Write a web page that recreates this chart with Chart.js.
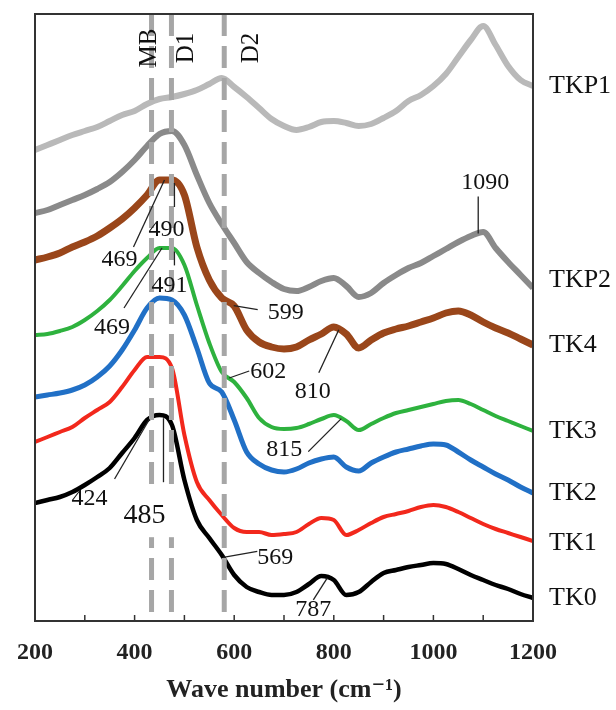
<!DOCTYPE html>
<html>
<head>
<meta charset="utf-8">
<script src="https://cdn.jsdelivr.net/npm/chart.js@4/dist/chart.umd.min.js"></script>
<style>
  body { margin: 0; background: #fff; }
</style>
</head>
<body>
<canvas id="myChart" width="616" height="710"></canvas>
<script>
const ctx = document.getElementById('myChart');

// Raman shift (cm-1) and stacked intensities (a.u., offset per sample)
let waveNumbers = [200, 225, 250, 275, 300, 325, 350, 375, 400, 425, 450, 475, 500, 525, 550, 575, 600, 625, 650, 675,
                   700, 725, 750, 775, 800, 825, 850, 875, 900, 925, 950, 975, 1000, 1025, 1050, 1075, 1100, 1125, 1150, 1175, 1200];
let tk0  = [118, 121, 124, 129, 136, 144, 153, 168, 183, 201, 206, 196, 141, 101, 83, 66, 46, 34, 29, 26,
            26, 29, 37, 45, 41, 26, 29, 39, 48, 51, 54, 56, 58, 57, 52, 46, 41, 36, 32, 27, 23];
let tk1  = [179, 184, 189, 194, 203, 211, 219, 234, 251, 264, 264, 253, 186, 139, 121, 106, 93, 89, 89, 86,
            87, 89, 97, 103, 101, 86, 91, 98, 104, 107, 110, 114, 116, 114, 109, 103, 97, 92, 88, 84, 80];
let tk2  = [224, 226, 228, 231, 236, 244, 255, 271, 291, 313, 323, 321, 306, 273, 238, 229, 201, 169, 157, 151,
            149, 152, 158, 162, 164, 154, 150, 158, 164, 169, 172, 175, 177, 176, 169, 161, 154, 147, 141, 134, 128];
let tk3  = [286, 287, 290, 294, 301, 310, 321, 335, 350, 363, 373, 373, 356, 316, 278, 249, 239, 223, 203, 194,
            192, 193, 197, 202, 206, 200, 191, 197, 203, 208, 211, 214, 217, 220, 221, 217, 211, 205, 200, 195, 190];
let tk4  = [361, 364, 368, 374, 379, 385, 393, 402, 413, 426, 441, 441, 426, 374, 341, 323, 315, 291, 279, 274,
            272, 274, 281, 287, 294, 287, 273, 281, 288, 292, 295, 299, 303, 308, 310, 306, 299, 293, 288, 282, 276];
let tkp2 = [408, 411, 416, 421, 426, 432, 439, 449, 461, 475, 487, 490, 476, 446, 418, 397, 378, 359, 348, 339,
            332, 330, 334, 340, 343, 335, 324, 328, 338, 346, 353, 358, 365, 372, 379, 385, 389, 373, 359, 346, 333];
let tkp1 = [471, 476, 481, 486, 490, 494, 500, 506, 510, 517, 522, 524, 527, 531, 537, 543, 534, 524, 513, 502,
            495, 491, 494, 499, 500, 498, 495, 497, 503, 510, 520, 526, 535, 547, 564, 581, 595, 576, 555, 541, 535];

let seriesNames  = ['TK0', 'TK1', 'TK2', 'TK3', 'TK4', 'TKP2', 'TKP1'];
let seriesValues = [tk0, tk1, tk2, tk3, tk4, tkp2, tkp1];
let seriesColors = ['#000000', '#f2281c', '#2170c6', '#2eb23e', '#9a461a', '#8a8a8a', '#b9b9b9'];
let seriesWidths = [4.5, 4, 5, 4, 7, 6, 6];

// reference bands (dashed lines)
let bandNames     = ['MB', 'D1', 'D2'];
let bandPositions = [434, 474, 580];

// peak labels: text, sample, wave number where the leader touches the curve
let peakTexts  = ['1090', '490', '469', '469', '491', '599', '602', '810', '815', '424', '485', '569', '787'];
let peakSeries = ['TKP2', 'TK4', 'TK4', 'TK3', 'TK3', 'TK4', 'TK3', 'TK4', 'TK3', 'TK0', 'TK0', 'TK0', 'TK0'];
let peakWaves  = [1090, 480, 460, 455, 480, 599, 590, 810, 815, 430, 458, 578, 787];

function valueAt(values, x) {
  for (let i = 1; i < waveNumbers.length; i++) {
    if (x <= waveNumbers[i]) {
      let t = (x - waveNumbers[i - 1]) / (waveNumbers[i] - waveNumbers[i - 1]);
      return values[i - 1] + t * (values[i] - values[i - 1]);
    }
  }
  return values[values.length - 1];
}

const serif = "'Liberation Serif', 'DejaVu Serif', serif";

const decorations = {
  id: 'decorations',
  afterDatasetsDraw(chart) {
    const c = chart.ctx;
    const xs = chart.scales.x, ys = chart.scales.y;
    const area = chart.chartArea;
    c.save();

    // dashed band lines
    c.strokeStyle = '#a6a6a6';
    c.lineWidth = 5;
    c.setLineDash([22, 10]);
    bandPositions.forEach(b => {
      let px = xs.getPixelForValue(b);
      c.beginPath();
      c.moveTo(px, area.top);
      c.lineTo(px, area.bottom);
      c.stroke();
    });
    c.setLineDash([]);

    // band names, rotated
    c.fillStyle = '#111';
    c.font = '25px ' + serif;
    c.textAlign = 'center';
    c.textBaseline = 'middle';
    const bandLabelDx = [-2, 15, 27];
    bandNames.forEach((n, i) => {
      let px = xs.getPixelForValue(bandPositions[i]) + bandLabelDx[i];
      c.save();
      c.translate(px, 48);
      c.rotate(-Math.PI / 2);
      c.fillText(n, 0, 0);
      c.restore();
    });

    // peak annotations: [line end dx, dy, text dx, dy]
    const offs = [
      [0, -37, 7, -51], [0, 24, -8, 47], [-31, 67, -45, 80], [-38, 60, -50, 80],
      [0, 14, -5, 34], [24, 4, 52, 7], [20, -7, 39, -6], [-20, 43, -26, 62],
      [-33, 33, -57, 31], [-35, 60, -60, 80], [0, 64, -19, 97], [34, -6, 52, 0],
      [-14, 22, -14, 32]
    ];
    peakTexts.forEach((t, i) => {
      let vals = seriesValues[seriesNames.indexOf(peakSeries[i])];
      let ax = xs.getPixelForValue(peakWaves[i]);
      let ay = ys.getPixelForValue(valueAt(vals, peakWaves[i]));
      let o = offs[i];
      c.strokeStyle = '#222';
      c.lineWidth = 1.3;
      c.beginPath();
      c.moveTo(ax, ay);
      c.lineTo(ax + o[0], ay + o[1]);
      c.stroke();
      let big = t === '485';
      if (big) {
        c.fillStyle = '#fff';
        c.fillRect(ax + o[2] - 36, ay + o[3] - 27, 72, 49);
      }
      c.fillStyle = '#111';
      c.font = (big ? '28px ' : '24px ') + serif;
      c.fillText(t, ax + o[2], ay + o[3]);
    });

    // frame and inward ticks
    c.strokeStyle = '#333';
    c.lineWidth = 2;
    c.strokeRect(area.left, area.top, area.right - area.left, area.bottom - area.top);
    c.lineWidth = 1.5;
    xs.ticks.forEach(tk => {
      if (tk.value <= xs.min || tk.value >= xs.max) return;
      let px = xs.getPixelForValue(tk.value);
      c.beginPath();
      c.moveTo(px, area.bottom);
      c.lineTo(px, area.bottom - 6);
      c.stroke();
    });

    // sample names at the right
    c.fillStyle = '#111';
    c.font = '26px ' + serif;
    c.textAlign = 'left';
    const nameDy = [0, 2, 0, 0, 0, -8, 0];
    seriesNames.forEach((n, i) => {
      let v = seriesValues[i][seriesValues[i].length - 1];
      c.fillText(n, area.right + 16, ys.getPixelForValue(v) + nameDy[i]);
    });
    c.restore();
  }
};

new Chart(ctx, {
  type: 'line',
  data: {
    datasets: seriesNames.map((n, i) => ({
      label: n,
      data: seriesValues[i].map((v, j) => ({ x: waveNumbers[j], y: v })),
      borderColor: seriesColors[i],
      borderWidth: seriesWidths[i],
      pointRadius: 0,
      cubicInterpolationMode: 'monotone',
      fill: false
    }))
  },
  options: {
    responsive: false,
    animation: false,
    devicePixelRatio: 1,
    layout: { padding: { left: 33, right: 83, top: 14, bottom: 0 } },
    plugins: { legend: { display: false }, tooltip: { enabled: false } },
    scales: {
      x: {
        type: 'linear',
        min: 200,
        max: 1200,
        grid: { display: false, drawTicks: false },
        border: { display: false },
        ticks: {
          stepSize: 100,
          autoSkip: false,
          maxRotation: 0,
          padding: 17,
          color: '#222',
          font: { family: serif, size: 24, weight: 'bold' },
          callback: v => (v % 200 === 0 ? String(v) : '')
        },
        title: {
          display: true,
          text: 'Wave number (cm⁻¹)',
          color: '#222',
          font: { family: serif, size: 26, weight: 'bold' },
          padding: { top: 4, bottom: 4 }
        },
        afterFit: s => { s.height = 89; }
      },
      y: { display: false, min: 0, max: 607 }
    }
  },
  plugins: [decorations]
});
</script>
</body>
</html>
